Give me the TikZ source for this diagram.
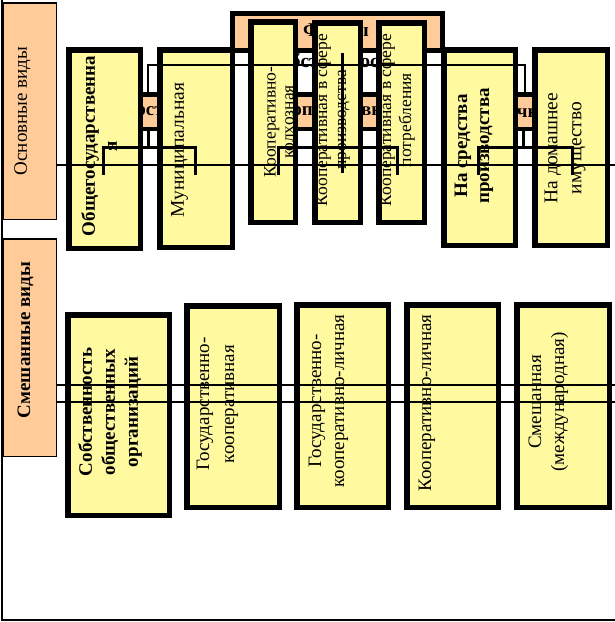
\documentclass[tikz,border=0pt]{standalone}
\usepackage{fontspec}
\setmainfont{Liberation Serif}
\definecolor{boxyellow}{RGB}{255,250,160}
\definecolor{peach}{RGB}{255,204,153}
\begin{document}
\begin{tikzpicture}[x=1pt,y=-1pt,
  wh/.style 2 args={minimum width=#1,minimum height=#2},
  side/.style={draw=black,line width=1.5pt,fill=peach,inner sep=0pt},
  grp/.style={draw=black,line width=4.5pt,fill=peach,inner sep=0pt},
  ttl/.style={draw=black,line width=5pt,fill=peach,inner sep=0pt},
  ybox/.style={draw=black,line width=5.5pt,fill=boxyellow,inner sep=0pt},
  vtext/.style={rotate=90,align=center,inner sep=0pt},
  htext/.style={align=center,inner sep=0pt},
  conn/.style={draw=black,line width=3pt},
  thinline/.style={draw=black,line width=1.5pt}]
\useasboundingbox (0,0) rectangle (615,622);
% outer frame
\coordinate (f1) at (2,0);
\coordinate (f2) at (2,620);
\coordinate (f3) at (615,620);
\draw[thinline] (f1) -- (f2) -- (f3);
% side labels
\node[side,wh={53.5}{216.5}] (s1) at (29.5,111) {};
\node[side,wh={53.5}{217.5}] (s2) at (29.5,347.5) {};
\node[vtext,font=\fontsize{19}{23}\selectfont] (ts1) at (22.5,111) {Основные виды};
\node[vtext,font=\bfseries\fontsize{19}{23}\selectfont] (ts2) at (25.5,340) {Смешанные виды};
% title box
\node[ttl,wh={210}{37}] (T) at (337.5,32) {};
\node[htext,font=\bfseries\fontsize{19.5}{31}\selectfont] (tT) at (336,46) {Формы\\собственности};
% group header boxes
\node[grp,wh={151.5}{34.5}] (G1) at (150,111.5) {};
\node[htext,font=\bfseries\fontsize{19}{23}\selectfont] (tG1) at (152,111.5) {Государственная};
\node[grp,wh={151.5}{34.5}] (G2) at (336,111.5) {};
\node[htext,font=\bfseries\fontsize{19}{23}\selectfont] (tG2) at (336,111.5) {Кооперативная};
\node[grp,wh={141.5}{34.5}] (G3) at (525,111.5) {};
\node[htext,font=\bfseries\fontsize{19}{23}\selectfont] (tG3) at (525,111.5) {Личная};
% top row boxes
\node[ybox,wh={71.5}{198.5}] (b1) at (104.5,149) {};
\node[ybox,wh={72.5}{197.5}] (b2) at (196,148.5) {};
\node[ybox,wh={44.5}{200.5}] (b3) at (273,122) {};
\node[ybox,wh={45.5}{199.5}] (b4) at (337.5,122.5) {};
\node[ybox,wh={45.5}{199.5}] (b5) at (401.5,122.5) {};
\node[ybox,wh={71.5}{195.5}] (b6) at (479.5,147.5) {};
\node[ybox,wh={72.5}{195.5}] (b7) at (571,147.5) {};
\node[vtext,font=\bfseries\fontsize{19}{22}\selectfont] (tb1) at (99,146) {Общегосударственна\\я};
\node[vtext,font=\fontsize{19.5}{23}\selectfont] (tb2) at (179.5,150) {Муниципальная};
\node[vtext,font=\fontsize{17.5}{18}\selectfont] (tb3) at (279,122) {Кооперативно-\\колхозная};
\node[vtext,font=\fontsize{17.5}{19}\selectfont] (tb4) at (332.5,120) {Кооперативная в сфере\\производства};
\node[vtext,font=\fontsize{17.5}{20}\selectfont] (tb5) at (397,120) {Кооперативная в сфере\\потребления};
\node[vtext,font=\bfseries\fontsize{19}{22}\selectfont] (tb6) at (474,146) {На средства\\производства};
\node[vtext,font=\fontsize{19.5}{24}\selectfont] (tb7) at (565,148) {На домашнее\\имущество};
% bottom row boxes
\node[ybox,wh={101.5}{200.5}] (c1) at (118.5,415) {};
\node[ybox,wh={92.5}{201.5}] (c2) at (233,406.5) {};
\node[ybox,wh={91.5}{202.5}] (c3) at (342.5,406) {};
\node[ybox,wh={91.5}{202.5}] (c4) at (452.5,406) {};
\node[ybox,wh={92.5}{202.5}] (c5) at (563,406) {};
\node[vtext,font=\bfseries\fontsize{19}{23}\selectfont] (tc1) at (110,412) {Собственность\\общественных\\организаций};
\node[vtext,font=\fontsize{19}{25}\selectfont] (tc2) at (217.5,404) {Государственно-\\кооперативная};
\node[vtext,font=\fontsize{19}{23}\selectfont] (tc3) at (328.5,401) {Государственно-\\кооперативно-личная};
\node[vtext,font=\fontsize{19}{23}\selectfont] (tc4) at (427,403) {Кооперативно-личная};
\node[vtext,font=\fontsize{19}{23}\selectfont] (tc5) at (548.5,402) {Смешанная\\(международная)};
% long thin lines
\coordinate (h1a) at (57,165); \coordinate (h1b) at (615,165);
\coordinate (h2a) at (57,385); \coordinate (h2b) at (615,385);
\coordinate (h3a) at (57,402); \coordinate (h3b) at (615,402);
\draw[thinline] (h1a) -- (h1b);
\draw[thinline] (h2a) -- (h2b);
\draw[thinline] (h3a) -- (h3b);
% connectors title -> groups
\coordinate (k1) at (148,65);
\coordinate (k2) at (525,65);
\draw[draw=black,line width=2pt] (G1.north -| k1) -- (k1) -- (k2) -- (G3.north -| k2);
\coordinate (v2) at (342,173);
\draw[conn] (T.south -| v2) -- (v2);
% brackets
\coordinate (bb) at (0,147);
\coordinate (p1) at (103,175); \coordinate (p2) at (195,175);
\coordinate (p3) at (278,175); \coordinate (p4) at (397,175);
\coordinate (p5) at (478,175); \coordinate (p6) at (572,175);
\coordinate (k3) at (523,0);
\draw[conn] (G1.south -| k1) -- (k1 |- bb);
\draw[conn] (G3.south -| k3) -- (k3 |- bb);
\draw[conn] (p1) -- (p1 |- bb) -- (p2 |- bb) -- (p2);
\draw[conn] (p3) -- (p3 |- bb) -- (p4 |- bb) -- (p4);
\draw[conn] (p5) -- (p5 |- bb) -- (p6 |- bb) -- (p6);
\end{tikzpicture}
\end{document}
